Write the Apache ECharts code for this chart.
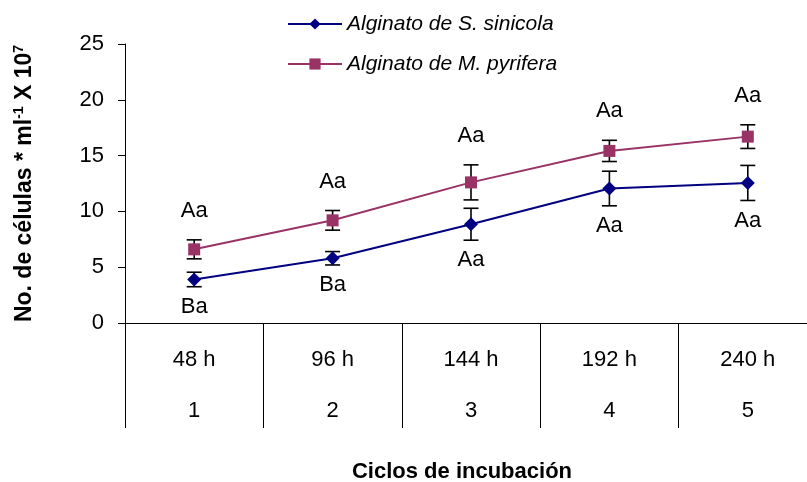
<!DOCTYPE html>
<html>
<head>
<meta charset="utf-8">
<script src="https://cdn.jsdelivr.net/npm/echarts@6/dist/echarts.min.js"></script>
<style>
    html, body { margin: 0; padding: 0; background: #fff; overflow: hidden; }
    /* the plot runs a little past the right edge of the picture, so the canvas is wider than the window */
    #chart { width: 817px; height: 482px; }
</style>
</head>
<body>
<div id="chart"></div>
<script>
    var hours = ['48 h', '96 h', '144 h', '192 h', '240 h'];
    var cycles = ['1', '2', '3', '4', '5'];
    var yTicks = [0, 5, 10, 15, 20, 25];

    var sinicola = [3.9, 5.8, 8.85, 12.05, 12.55];
    var sinicolaErr = [0.65, 0.6, 1.43, 1.55, 1.57];
    var sinicolaLetters = ['Ba', 'Ba', 'Aa', 'Aa', 'Aa'];

    var pyrifera = [6.6, 9.2, 12.6, 15.42, 16.7];
    var pyriferaErr = [0.85, 0.88, 1.57, 0.95, 1.06];
    var pyriferaLetters = ['Aa', 'Aa', 'Aa', 'Aa', 'Aa'];

    var FONT = 'Arial, "Liberation Sans", sans-serif';

    var chart = echarts.init(document.getElementById('chart'));

    // rows for the custom series: [category, value, error, letter]
    function rows(vals, errs, letters) {
        return vals.map(function (v, i) { return [i, v, errs[i], letters[i]]; });
    }

    function errorBar(params, api) {
        var i = api.value(0), v = api.value(1), e = api.value(2);
        var hi = api.coord([i, v + e]);
        var lo = api.coord([i, v - e]);
        var w = 7.5;
        var st = { stroke: '#000', lineWidth: 1.6 };
        return {
            type: 'group',
            children: [
                { type: 'line', shape: { x1: hi[0], y1: hi[1], x2: lo[0], y2: lo[1] }, style: st },
                { type: 'line', shape: { x1: hi[0] - w, y1: hi[1], x2: hi[0] + w, y2: hi[1] }, style: st },
                { type: 'line', shape: { x1: lo[0] - w, y1: lo[1], x2: lo[0] + w, y2: lo[1] }, style: st }
            ]
        };
    }

    // letter above the upper whisker (sign 1) or below the lower one (sign -1)
    function letterAt(offset, sign) {
        return function (params, api) {
            var i = api.value(0), v = api.value(1), e = api.value(2);
            var p = api.coord([i, v + sign * e]);
            return {
                type: 'text',
                x: p[0], y: p[1] + offset,
                style: { text: api.value(3), fill: '#000', font: '22px ' + FONT, align: 'center', verticalAlign: 'middle' }
            };
        };
    }

    chart.setOption({
        animation: false,
        backgroundColor: '#fff',
        textStyle: { fontFamily: FONT },
        grid: { left: 125, right: 0, top: 44, bottom: 159, containLabel: false },
        legend: {
            orient: 'vertical',
            left: 287,
            top: 11,
            padding: 0,
            itemWidth: 54,
            itemHeight: 14,
            itemGap: 14,
            data: ['Alginato de S. sinicola', 'Alginato de M. pyrifera'],
            textStyle: { fontSize: 21, fontStyle: 'italic', color: '#000', fontFamily: FONT, lineHeight: 26 }
        },
        xAxis: {
            type: 'category',
            data: hours,
            axisLine: { lineStyle: { color: '#000', width: 1 } },
            axisTick: { show: true, interval: 0, length: 105, lineStyle: { color: '#000', width: 1 } },
            axisLabel: {
                margin: 11,
                interval: 0,
                formatter: function (val, idx) {
                    return '{a|' + val + '}\n{a|' + cycles[idx] + '}';
                },
                rich: { a: { fontSize: 22, lineHeight: 51, color: '#000', fontFamily: FONT } }
            }
        },
        yAxis: {
            type: 'value',
            min: yTicks[0],
            max: yTicks[yTicks.length - 1],
            interval: 5,
            splitLine: { show: false },
            axisLine: { show: true, lineStyle: { color: '#000', width: 1 } },
            axisTick: { show: true, length: 7, lineStyle: { color: '#000' } },
            axisLabel: { fontSize: 22, color: '#000', margin: 21, fontFamily: FONT },
            name: '{m|No. de células * ml}{s|-1}{m| X 10}{s|7}',
            nameLocation: 'middle',
            nameRotate: 90,
            nameGap: 89,
            nameTextStyle: {
                rich: {
                    m: { fontSize: 23, fontWeight: 'bold', color: '#000', fontFamily: FONT, lineHeight: 26, verticalAlign: 'bottom' },
                    s: { fontSize: 14, fontWeight: 'bold', color: '#000', fontFamily: FONT, verticalAlign: 'bottom', padding: [0, 0, 10, 0] }
                }
            }
        },
        graphic: [{
            type: 'text',
            x: 462,
            y: 472,
            style: { text: 'Ciclos de incubación', font: 'bold 22px ' + FONT, fill: '#000', align: 'center', verticalAlign: 'middle' }
        }],
        series: [
            {
                type: 'custom',
                renderItem: errorBar,
                data: rows(sinicola, sinicolaErr, sinicolaLetters),
                z: 1, silent: true
            },
            {
                type: 'custom',
                renderItem: errorBar,
                data: rows(pyrifera, pyriferaErr, pyriferaLetters),
                z: 1, silent: true
            },
            {
                type: 'custom',
                renderItem: letterAt(20, -1),
                data: rows(sinicola, sinicolaErr, sinicolaLetters),
                z: 1, silent: true
            },
            {
                type: 'custom',
                renderItem: letterAt(-29, 1),
                data: rows(pyrifera, pyriferaErr, pyriferaLetters),
                z: 1, silent: true
            },
            {
                name: 'Alginato de S. sinicola',
                type: 'line',
                data: sinicola,
                symbol: 'diamond',
                symbolSize: 14,
                z: 3,
                itemStyle: { color: '#000080' },
                lineStyle: { color: '#000080', width: 2 }
            },
            {
                name: 'Alginato de M. pyrifera',
                type: 'line',
                data: pyrifera,
                symbol: 'rect',
                symbolSize: 12,
                z: 3,
                itemStyle: { color: '#993366' },
                lineStyle: { color: '#993366', width: 2 }
            }
        ]
    });
</script>
</body>
</html>
